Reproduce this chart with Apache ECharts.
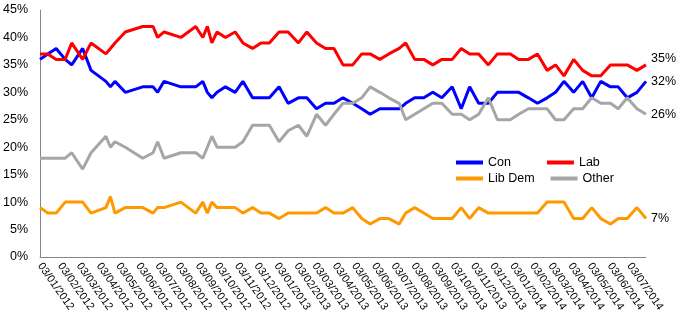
<!DOCTYPE html>
<html>
<head>
<meta charset="utf-8">
<script src="https://cdn.jsdelivr.net/npm/echarts@6/dist/echarts.min.js"></script>
<style>html,body{margin:0;padding:0;background:#fff}#c{width:688px;height:327px}</style>
</head>
<body>
<div id="c"></div>
<script>
const pollDates = [
 '2012-01-03','2012-01-15','2012-01-28','2012-02-11','2012-02-21','2012-03-09','2012-03-22','2012-04-14','2012-04-21','2012-04-28',
 '2012-05-14','2012-06-10','2012-06-26','2012-07-03','2012-07-13','2012-08-08','2012-08-31','2012-09-11','2012-09-18','2012-09-25',
 '2012-10-03','2012-10-16','2012-10-31','2012-11-12','2012-11-27','2012-12-10','2012-12-23',
 '2013-01-07','2013-01-21','2013-02-06','2013-02-19','2013-03-06','2013-03-20','2013-04-02','2013-04-16','2013-05-01','2013-05-15',
 '2013-05-28','2013-06-12','2013-06-26','2013-07-12','2013-07-22','2013-08-05','2013-08-19','2013-09-02','2013-09-16','2013-10-02',
 '2013-10-16','2013-10-29','2013-11-12','2013-11-27','2013-12-11','2013-12-31',
 '2014-01-13','2014-01-28','2014-02-11','2014-02-26','2014-03-11','2014-03-24','2014-04-08','2014-04-22','2014-05-06','2014-05-20',
 '2014-06-04','2014-06-16','2014-06-30','2014-07-15','2014-07-29'
];
const con = [36,37,38,36,35,38,34,32,31,32,30,31,31,30,32,31,31,32,30,29,30,31,30,32,29,29,29,
 31,28,29,29,27,28,28,29,28,27,26,27,27,27,28,29,29,30,29,31,27,31,28,28,30,30,
 30,29,28,29,30,32,30,32,29,32,31,31,29,30,32];
const lab = [37,37,36,36,39,36,39,37,38,39,41,42,42,40,41,40,42,40,42,39,41,40,41,39,38,39,39,
 41,41,39,41,39,38,38,35,35,37,37,36,37,38,39,36,36,35,36,36,38,37,37,35,37,37,
 36,36,37,34,35,33,36,34,33,33,35,35,35,34,35];
const libDem = [9,8,8,10,10,10,8,9,11,8,9,9,8,9,9,10,8,10,8,10,9,9,9,8,9,8,8,
 7,8,8,8,8,9,8,8,9,7,6,7,7,6,8,9,8,7,7,7,9,7,9,8,8,8,
 8,8,8,10,10,10,7,7,9,7,6,7,7,9,7];
const other = [18,18,18,18,19,16,19,22,20,21,20,18,19,21,18,19,19,18,20,22,20,20,20,21,24,24,24,
 21,23,24,22,26,24,26,28,28,29,31,30,29,28,25,26,27,28,28,26,26,25,26,29,25,25,
 26,27,27,27,25,25,27,27,29,28,28,27,29,27,26];
const monthTicks = [
 '2012-01-03','2012-02-03','2012-03-03','2012-04-03','2012-05-03','2012-06-03','2012-07-03','2012-08-03','2012-09-03','2012-10-03','2012-11-03','2012-12-03',
 '2013-01-03','2013-02-03','2013-03-03','2013-04-03','2013-05-03','2013-06-03','2013-07-03','2013-08-03','2013-09-03','2013-10-03','2013-11-03','2013-12-03',
 '2014-01-03','2014-02-03','2014-03-03','2014-04-03','2014-05-03','2014-06-03','2014-07-03'
];
const seriesNames = ['Con','Lab','Lib Dem','Other'];
const seriesColors = ['#0000FF','#FF0000','#FF9900','#A6A6A6'];

function ts(s){const p=s.split('-');return new Date(+p[0],+p[1]-1,+p[2]).getTime();}
function fmt(v){const d=new Date(v);const p=n=>(n<10?'0':'')+n;return p(d.getDate())+'/'+p(d.getMonth()+1)+'/'+d.getFullYear();}

const values = [con, lab, libDem, other];
const FONT = 'Liberation Sans, Arial, sans-serif';
const chart = echarts.init(document.getElementById('c'));
const tickTs = monthTicks.map(ts);
chart.setOption({
  animation: false,
  backgroundColor: '#fff',
  textStyle: {fontFamily: FONT},
  grid: {left: 39, right: 42, top: 10, bottom: 70},
  legend: [
    {data: ['Con','Lab'], left: 451, top: 151, icon: 'rect', itemWidth: 27, itemHeight: 4, itemGap: 36,
     textStyle: {fontSize: 12.5, color: '#000', fontFamily: FONT}},
    {data: ['Lib Dem','Other'], left: 451, top: 167, icon: 'rect', itemWidth: 27, itemHeight: 4, itemGap: 16,
     textStyle: {fontSize: 12.5, color: '#000', fontFamily: FONT}}
  ],
  xAxis: {
    type: 'value',
    min: ts(pollDates[0]),
    max: ts(pollDates[pollDates.length-1]),
    axisLine: {show: true, onZero: false, lineStyle: {color: '#868686', width: 1}},
    axisTick: {show: false},
    splitLine: {show: false},
    axisLabel: {
      customValues: tickTs,
      rotate: -55,
      margin: 7,
      fontSize: 11,
      color: '#000',
      fontFamily: FONT,
      formatter: v => fmt(v),
      hideOverlap: false,
      showMinLabel: true,
      showMaxLabel: true
    }
  },
  yAxis: {
    type: 'value', min: 0, max: 45, interval: 5,
    axisLine: {show: true, lineStyle: {color: '#868686', width: 1}},
    axisTick: {show: false},
    splitLine: {show: false},
    axisLabel: {formatter: v => v + '%', fontSize: 12.5, color: '#000', margin: 12, fontFamily: FONT}
  },
  series: seriesNames.map((name, i) => ({
    name: name,
    type: 'line',
    symbol: 'none',
    color: seriesColors[i],
    lineStyle: {width: 3, color: seriesColors[i]},
    data: pollDates.map((d, j) => [ts(d), values[i][j]]),
    endLabel: {
      show: true,
      formatter: p => p.value[1] + '%',
      distance: 5,
      color: '#000',
      fontSize: 12.5,
      fontFamily: FONT,
      offset: i === 1 ? [0, -6] : [0, 0]
    }
  }))
});
</script>
</body>
</html>
